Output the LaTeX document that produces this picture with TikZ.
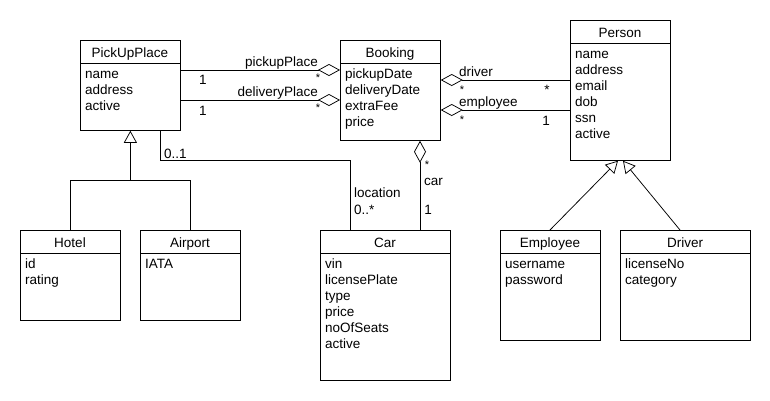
\documentclass[tikz,border=0pt]{standalone}
\usepackage{fontspec}
\setmainfont{Liberation Sans}
\usetikzlibrary{arrows.meta,calc}
\tikzset{
  clsbox/.style={draw, line width=0.75pt, inner sep=0pt, fill=white},
  lbl/.style={font=\fontsize{13.5}{16}\selectfont, inner sep=0pt},
  star/.style={font=\fontsize{11}{13}\selectfont, inner sep=0pt},
  conn/.style={line width=0.75pt},
  agg/.style={conn, -{Diamond[open, length=22pt, width=12pt, line width=0.75pt]}},
  inh/.style={conn, -{Triangle[open, length=12pt, width=13pt, line width=0.75pt]}},
}
% name, x, y, w, h, title, attributes
\newcommand\umlcls[7]{%
  \node[clsbox, minimum width=#4pt, minimum height=#5pt, anchor=north west] (#1) at (#2,#3) {};
  \draw[conn] ($(#1.north west)+(0,23)$) -- ($(#1.north east)+(0,23)$);
  \node[lbl, anchor=base] (#1-t) at (#2+#4/2,#3+17) {#6};
  \foreach \a [count=\i] in {#7} {\node[lbl, anchor=base west] (#1-a\i) at (#2+5,#3+22+16*\i) {\a};}
}
\begin{document}
\begin{tikzpicture}[x=1pt, y=-1pt]
\useasboundingbox[fill=white] (0,0) rectangle (770,400);

\umlcls{pup}{80}{40}{100}{90}{PickUpPlace}{name,address,active}
\umlcls{booking}{340}{40}{100}{100}{Booking}{pickupDate,deliveryDate,extraFee,price}
\umlcls{person}{570}{20}{100}{140}{Person}{name,address,email,dob,ssn,active}
\umlcls{hotel}{20}{230}{100}{90}{Hotel}{id,rating}
\umlcls{airport}{140}{230}{100}{90}{Airport}{IATA}
\umlcls{car}{320}{230}{130}{150}{Car}{vin,licensePlate,type,price,noOfSeats,active}
\umlcls{employee}{500}{230}{100}{110}{Employee}{username,password}
\umlcls{driver}{620}{230}{130}{110}{Driver}{licenseNo,category}

% pickupPlace / deliveryPlace
\draw[agg] ($(pup.north east)+(0,30)$) -- ($(booking.north west)+(0,30)$);
\draw[agg] ($(pup.north east)+(0,60)$) -- ($(booking.north west)+(0,60)$);
\node[lbl, anchor=base east] (l-pp) at (318,66) {pickupPlace};
\node[lbl, anchor=base] (m-pp1) at (203,84) {1};
\node[star, anchor=base] (m-pp2) at (318,81) {*};
\node[lbl, anchor=base east] (l-dp) at (318,96) {deliveryPlace};
\node[lbl, anchor=base] (m-dp1) at (203,115) {1};
\node[star, anchor=base] (m-dp2) at (318,111) {*};

% driver / employee
\draw[agg] ($(person.north west)+(0,60)$) -- ($(booking.north east)+(0,40)$);
\draw[agg] ($(person.north west)+(0,90)$) -- ($(booking.north east)+(0,70)$);
\node[lbl, anchor=base west] (l-dr) at (459,76) {driver};
\node[star, anchor=base] (m-dr1) at (462,93) {*};
\node[lbl, anchor=base] (m-dr2) at (547,94) {*};
\node[lbl, anchor=base west] (l-em) at (459,106) {employee};
\node[star, anchor=base] (m-em1) at (462,123) {*};
\node[lbl, anchor=base] (m-em2) at (546,125) {1};

% car
\draw[agg] ($(car.north west)+(100,0)$) -- ($(booking.south west)+(80,0)$);
\node[star, anchor=base] (m-c1) at (427,168) {*};
\node[lbl, anchor=base west] (l-car) at (424,185) {car};
\node[lbl, anchor=base] (m-c2) at (428,214) {1};

% location
\coordinate (loc1) at ($(pup.south west)+(80,0)$);
\coordinate (loc2) at ($(car.north west)+(30,0)$);
\draw[conn] (loc1) |- ($(loc2)+(0,-70)$) -- (loc2);
\node[lbl, anchor=base west] (m-l1) at (164,158) {0..1};
\node[lbl, anchor=base west] (l-loc) at (354,197) {location};
\node[lbl, anchor=base west] (m-l2) at (354,214) {0..*};

% inheritance PickUpPlace
\coordinate (pj) at ($(pup.south)+(0,50)$);
\draw[conn] (hotel.north) |- (pj) -| (airport.north);
\draw[inh] (pj) -- (pup.south);

% inheritance Person
\draw[inh] ($(employee.north west)+(50,0)$) -- ($(person.south west)+(48,0)$);
\draw[inh] ($(driver.north west)+(60,0)$) -- ($(person.south west)+(53,0)$);
\end{tikzpicture}
\end{document}
